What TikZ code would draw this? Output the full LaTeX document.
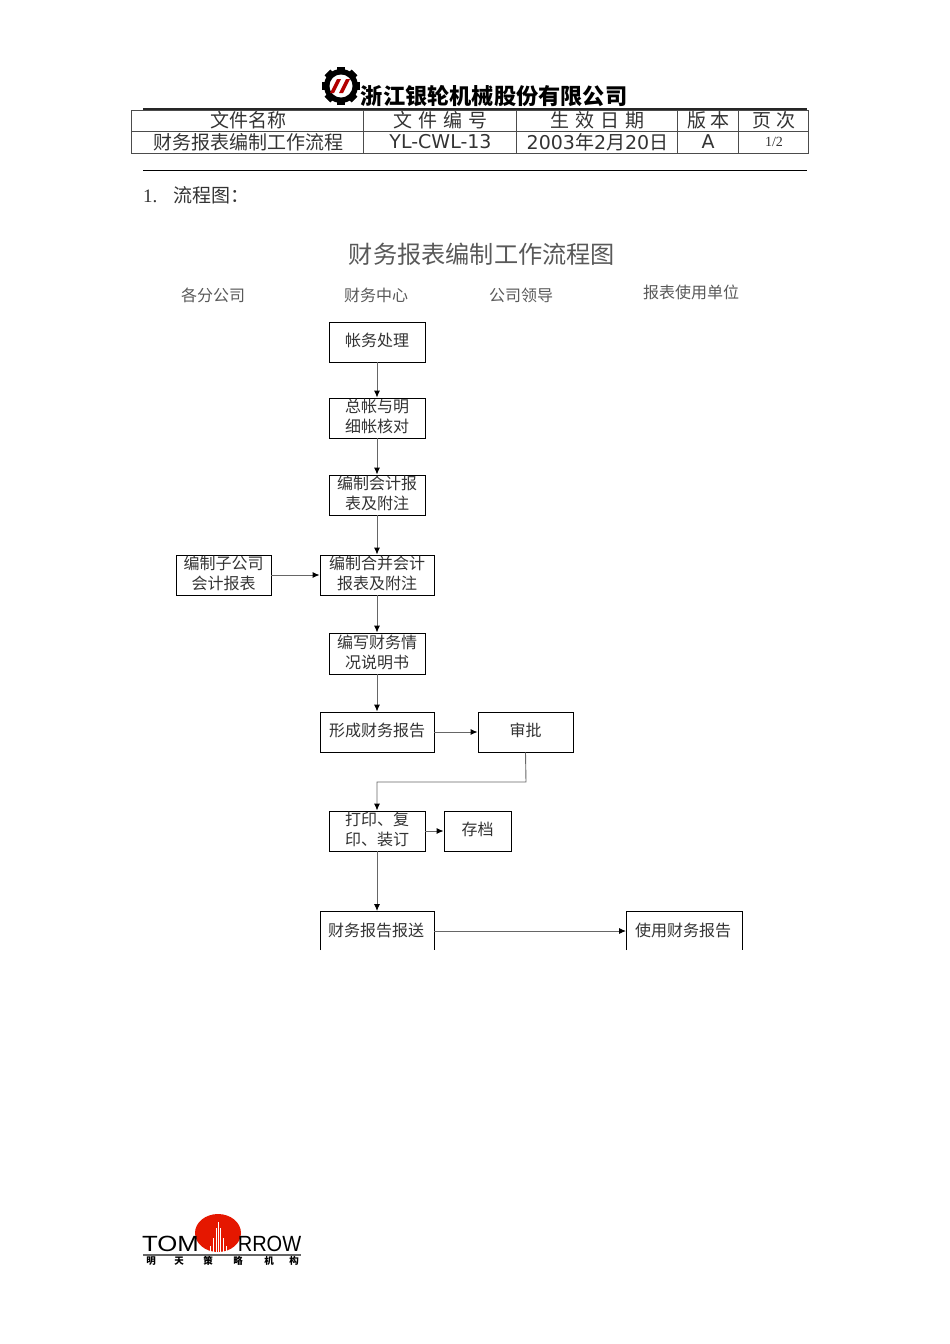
\documentclass[tikz,border=0pt]{standalone}
\usepackage{fontspec}
\usetikzlibrary{arrows.meta}
\setmainfont{Noto Sans CJK SC}
\newfontfamily\latinfont{DejaVu Sans}
\newfontfamily\serieffont{Liberation Serif}
\newfontfamily\logofont{Liberation Sans}
\tikzset{
  stepbox/.style={draw=black,line width=0.9pt,minimum height=40pt,inner sep=0pt,align=center,
    font=\fontsize{16}{20}\selectfont,text=black!80,execute at end node={\rule[-4pt]{0pt}{1pt}}},
  narrowbox/.style={stepbox,minimum width=96pt},
  widebox/.style={stepbox,minimum width=114pt},
  openbox/.style={minimum height=40pt,inner sep=0pt,font=\fontsize{16}{20}\selectfont,text=black!80},
  flowline/.style={draw=black!60,line width=0.9pt,-{Latex[black,length=7pt,width=6pt]}},
  rowhead/.style={font=\fontsize{16}{19}\selectfont,text=black!65},
  celltext/.style={font=\fontsize{19}{22}\selectfont,text=black!80},
  tableline/.style={draw=black!70,line width=1pt}
}
\begin{document}
\begin{tikzpicture}[x=1pt,y=-1pt]
        \useasboundingbox (0,0) rectangle (950,1344);
        % page head
        \foreach \a in {0,45,...,315}
          \fill[black,rotate around={\a:(341,86)}] (337,67) rectangle (345,105);
        \fill[black] (341,86) circle (17);
        \fill[white] (341,86) circle (11.5);
        \fill[red!70!black] (330,93) -- (337,79) -- (341,79) -- (334,93) -- cycle;
        \fill[red!70!black] (339,93) -- (346,79) -- (350,79) -- (343,93) -- cycle;
        \node at (494,96) (company) {\fontsize{22.2}{24}\selectfont\bfseries 浙江银轮机械股份有限公司};
        % table
        \draw[draw=black!85,line width=1.5pt] (143,109) -- (807,109);
        \draw[tableline] (131,110) rectangle (808,153);
        \draw[tableline] (131,131) -- (808,131);
        \foreach \x in {363,516,677,738}
          \draw[tableline] (\x,110) -- (\x,153);
        \node[celltext] at (248,120) (namehead) {文件名称};
        \node[celltext] at (440.5,120) (codehead) {文\hspace{6pt}件\hspace{6pt}编\hspace{6pt}号};
        \node[celltext] at (597.5,120) (datehead) {生\hspace{6pt}效\hspace{6pt}日\hspace{6pt}期};
        \node[celltext] at (708.5,120) (verhead) {版 本};
        \node[celltext] at (774,120) (pagehead) {页 次};
        \node[celltext] at (248,142) (nameval) {财务报表编制工作流程};
        \node[celltext] at (440.5,142) (codeval) {\latinfont YL-CWL-13};
        \node[celltext] at (597.5,142) (dateval) {{\latinfont 2003}年{\latinfont 2}月{\latinfont 20}日};
        \node[celltext] at (708,142) (verval) {\latinfont A};
        \node[celltext] at (774,142) (pageval) {\serieffont\fontsize{14}{16}\selectfont 1/2};
        \draw[draw=black,line width=1pt] (143,170) -- (807,170);
        \node[celltext,anchor=west,inner sep=0pt] at (143,195) (section) {{\serieffont 1.}\hspace{16pt}流程图：};
        % chart title and columns
        \node at (482,254) (charttitle) {\fontsize{24.2}{28}\selectfont\color{black!65}财务报表编制工作流程图};
        \node[rowhead] at (213,295) (branch) {各分公司};
        \node[rowhead] at (376,295) (finance) {财务中心};
        \node[rowhead] at (521,295) (leader) {公司领导};
        \node[rowhead] at (691,292) (users) {报表使用单位};
        % boxes
        \node[narrowbox] at (377,342) (ledger) {帐务处理};
        \node[narrowbox] at (377,418) (check) {总帐与明\\细帐核对};
        \node[narrowbox] at (377,495) (report) {编制会计报\\表及附注};
        \node[widebox] at (377,575) (merged) {编制合并会计\\报表及附注};
        \node[stepbox,minimum width=95pt] at (223.5,575) (subsidiary) {编制子公司\\会计报表};
        \node[narrowbox,minimum height=41pt] at (377,653.5) (notes) {编写财务情\\况说明书};
        \node[widebox] at (377,732) (form) {形成财务报告};
        \node[stepbox,minimum width=95pt] at (525.5,732) (approve) {审批};
        \node[narrowbox] at (377,831) (print) {打印、复\\印、装订};
        \node[stepbox,minimum width=67pt] at (477.5,831) (archive) {存档};
        \node[openbox,minimum width=114pt] at (376,930) (submit) {财务报告报送};
        \node[openbox,minimum width=116pt] at (683,930) (use) {使用财务报告};
        \draw[black,line width=0.9pt] (320,950) -- (320,911) -- (434,911) -- (434,950);
        \draw[black,line width=0.9pt] (626,950) -- (626,911) -- (742,911) -- (742,950);
        % connectors
        \coordinate (bend) at (526,782);
        \coordinate (submittop) at (377,911);
        \coordinate (submitright) at (434,931);
        \coordinate (useleft) at (626,931);
        \draw[flowline] (ledger) -- (check);
        \draw[flowline] (check) -- (report);
        \draw[flowline] (report) -- (merged);
        \draw[flowline] (merged) -- (notes);
        \draw[flowline] (notes) -- (form);
        \draw[flowline] (subsidiary) -- (merged);
        \draw[flowline] (form) -- (approve);
        \draw[flowline] (approve.south) -- (bend) -| (print.north);
        \draw[flowline] (print) -- (archive);
        \draw[flowline] (print) -- (submittop);
        \draw[flowline] (submitright) -- (useleft);
        % footer logo
        \fill[red!80!orange!90!black] (218,1233) ellipse (23 and 19);
        \foreach \x/\t in {210/1246,213/1238,216/1228,218/1222,220/1228,223/1238,226/1246}
          \draw[white,line width=0.5pt] (\x,1252) -- (\x,\t);
        \node[inner sep=0pt] at (170.5,1244) (tom) {\scalebox{1.17}[1]{\logofont\fontsize{22}{22}\selectfont TOM}};
        \node[inner sep=0pt] at (269.5,1244) (row) {\scalebox{0.91}[1]{\logofont\fontsize{22}{22}\selectfont RROW}};
        \fill[black!60] (143,1253.5) rectangle (301,1255.5);
        \foreach \x/\t in {151/明,179/天,208/策,238/略,269/机,294/构}
          \node[inner sep=0pt,font=\fontsize{9.5}{10}\selectfont\bfseries] at (\x,1261) {\t};
      \end{tikzpicture}
\end{document}
